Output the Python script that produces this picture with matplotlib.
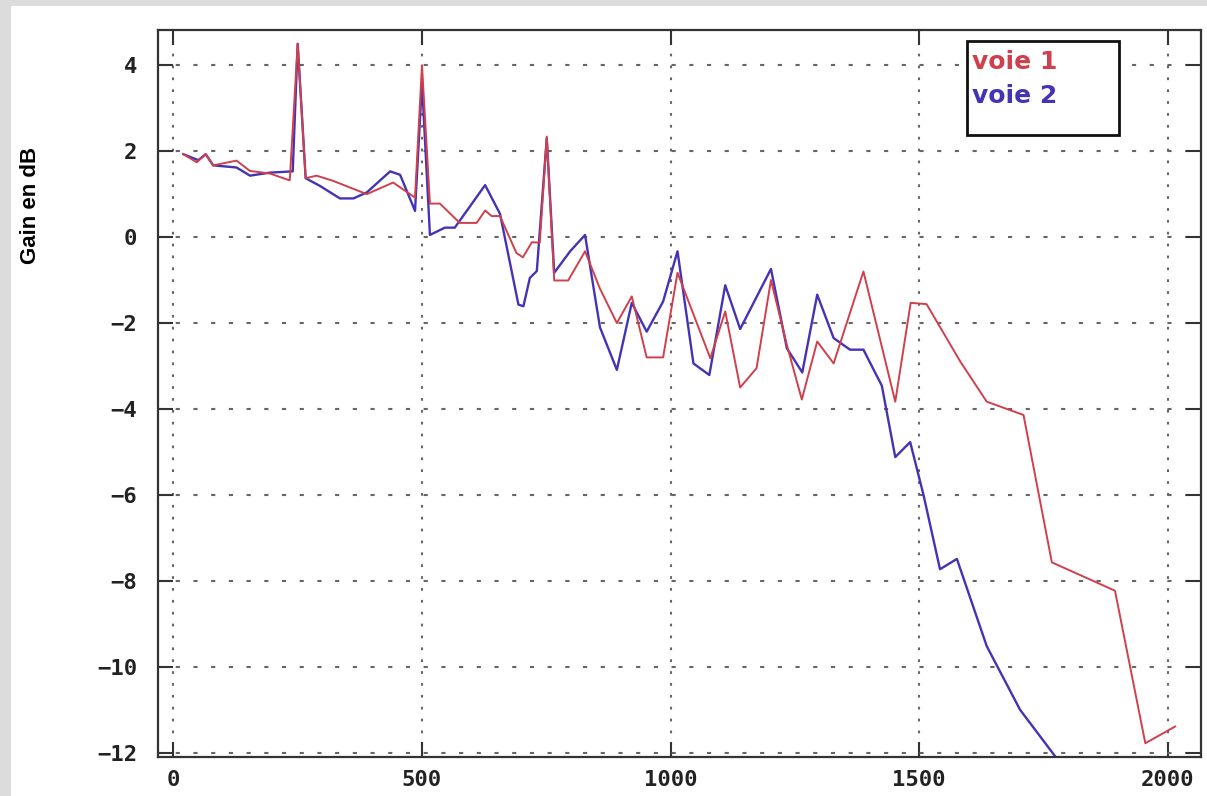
import matplotlib
matplotlib.use("Agg")
import matplotlib.pyplot as plt
from matplotlib.patches import Rectangle
from matplotlib import font_manager

# --- data (frequency, gain in dB) ---
voie1_x = [20, 47, 65, 80, 127, 154, 194, 234, 250, 266, 288, 321, 389, 442, 486,
           500, 516, 536, 576, 610, 627, 640, 657, 673, 690, 703, 721, 737, 751,
           766, 794, 828, 858, 892, 922, 952, 985, 1014, 1080, 1110, 1140, 1173,
           1202, 1234, 1264, 1295, 1328, 1388, 1452, 1483, 1515, 1583, 1636, 1710,
           1767, 1894, 1955, 2015]
voie1_y = [1.93, 1.74, 1.93, 1.67, 1.78, 1.54, 1.48, 1.32, 4.5, 1.37, 1.43, 1.31,
           1.00, 1.27, 0.92, 4.0, 0.78, 0.78, 0.33, 0.33, 0.62, 0.49, 0.49, 0.07,
           -0.37, -0.47, -0.12, -0.13, 2.34, -1.01, -1.01, -0.33, -1.2, -2.0,
           -1.38, -2.80, -2.80, -0.83, -2.82, -1.73, -3.5, -3.05, -1.0, -2.51,
           -3.78, -2.43, -2.94, -0.8, -3.83, -1.53, -1.56, -2.90, -3.83, -4.14,
           -7.57, -8.23, -11.78, -11.39]

voie2_x = [20, 50, 65, 80, 127, 154, 194, 240, 250, 266, 295, 335, 362, 389, 436,
           456, 486, 500, 516, 546, 566, 627, 657, 694, 704, 717, 731, 751, 766,
           798, 828, 858, 892, 922, 952, 985, 1014, 1046, 1078, 1110, 1140, 1202,
           1234, 1265, 1295, 1328, 1361, 1388, 1425, 1452, 1482, 1509, 1542, 1576,
           1636, 1703, 1774]
voie2_y = [1.93, 1.79, 1.93, 1.67, 1.62, 1.43, 1.50, 1.53, 4.5, 1.37, 1.19, 0.90,
           0.90, 1.04, 1.53, 1.45, 0.61, 3.6, 0.05, 0.22, 0.22, 1.21, 0.54, -1.57,
           -1.61, -0.95, -0.79, 2.3, -0.83, -0.33, 0.05, -2.1, -3.09, -1.53, -2.20,
           -1.50, -0.33, -2.94, -3.21, -1.12, -2.14, -0.74, -2.59, -3.15, -1.34,
           -2.35, -2.62, -2.62, -3.46, -5.12, -4.77, -6.01, -7.73, -7.49, -9.52,
           -11.0, -12.09]

labels = ["voie 1", "voie 2"]
x_ticks = [0, 500, 1000, 1500, 2000]
y_ticks = [-12, -10, -8, -6, -4, -2, 0, 2, 4]

RED = "#d0404c"
BLUE = "#4433b4"

# narrow bold face for the y label if the system has one
installed = {f.name for f in font_manager.fontManager.ttflist}
label_family = "Liberation Sans Narrow" if "Liberation Sans Narrow" in installed else "Liberation Sans"
label_size = 19 if label_family == "Liberation Sans Narrow" else 16

fig = plt.figure(figsize=(12.07, 7.96), dpi=100, facecolor="#dcdcdc")
fig.patches.append(Rectangle((11 / 1207, 0), 1, 790 / 796, transform=fig.transFigure,
                             facecolor="white", edgecolor="none", zorder=-5))
ax = fig.add_axes([158 / 1207, 1 - 757 / 796, 1043 / 1207, 727 / 796])
ax.set_zorder(1)

ax.plot(voie1_x, voie1_y, color=RED, lw=1.4, zorder=3)
ax.plot(voie2_x, voie2_y, color=BLUE, lw=1.7, zorder=2)

ax.set_xlim(-31, 2067)
ax.set_ylim(-12.1, 4.82)
ax.set_xticks(x_ticks)
ax.set_yticks(y_ticks)

# vertical grid: fine dots, horizontal grid: short dashes
ax.grid(axis="x", color="#666666", lw=1.5, linestyle=(0, (1.3, 4.4)))
ax.grid(axis="y", color="#666666", lw=1.5, linestyle=(0, (2, 6.5)))
ax.set_axisbelow(True)

ax.tick_params(direction="in", length=11, width=1.5, color="#333333",
               top=True, right=True, labelsize=16, labelcolor="#222222")
ax.tick_params(axis="y", pad=15)
ax.tick_params(axis="x", pad=9)
for lab in ax.get_xticklabels() + ax.get_yticklabels():
    lab.set_family("DejaVu Sans Mono")
    lab.set_fontweight("bold")
for sp in ax.spines.values():
    sp.set_linewidth(1.6)
    sp.set_color("#333333")

fig.text(31 / 1207, 1 - 205 / 796, "Gain en dB", rotation=90, ha="center",
         va="center", fontsize=label_size, fontweight="bold", family=label_family)

# legend box: coloured labels without line handles
ax.add_patch(Rectangle(((967 - 158) / 1043, 1 - (135 - 30) / 727),
                       152 / 1043, 94 / 727, transform=ax.transAxes,
                       facecolor="white", edgecolor="#111111", lw=2, zorder=5))
for i, (lab, col) in enumerate(zip(labels, [RED, BLUE])):
    ax.text((972 - 158) / 1043, 1 - (62 + 34 * i - 30) / 727, lab, color=col,
            transform=ax.transAxes, ha="left", va="center", fontsize=18,
            fontweight="bold", zorder=6)

fig.savefig("out.png", dpi=100, facecolor=fig.get_facecolor())
